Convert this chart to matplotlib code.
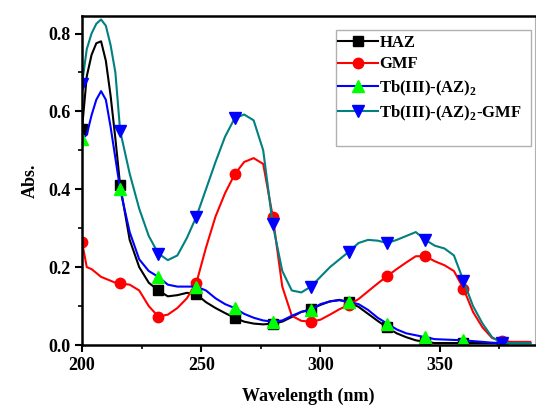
import numpy as np
import matplotlib
matplotlib.use("Agg")
import matplotlib.pyplot as plt
from matplotlib.patches import Rectangle

plt.rcParams['font.family'] = ['Liberation Serif', 'DejaVu Serif']
plt.rcParams['font.weight'] = 'bold'
plt.rcParams['mathtext.fontset'] = 'custom'
plt.rcParams['mathtext.rm'] = 'Liberation Serif:bold'
plt.rcParams['mathtext.bf'] = 'Liberation Serif:bold'

# wavelength grid (nm) and absorbance readings
wl = [200, 202, 204, 206, 208, 210, 212, 214, 216] + list(range(220, 392, 4))
marker_wl = [200, 216, 232, 248, 264, 280, 296, 312, 328, 344, 360, 376]

haz = [0.555, 0.69, 0.745, 0.775, 0.78, 0.73, 0.64, 0.53, 0.41,
       0.27, 0.20, 0.16, 0.14, 0.125, 0.128, 0.134, 0.13, 0.11, 0.095, 0.082,
       0.07, 0.06, 0.055, 0.053, 0.055, 0.06, 0.072, 0.085, 0.092, 0.103,
       0.112, 0.116, 0.11, 0.098, 0.08, 0.062, 0.045, 0.03, 0.02, 0.012,
       0.008, 0.005, 0.005, 0.005, 0.005, 0.005, 0.005, 0.005, 0.005, 0.005,
       0.005, 0.005]

gmf = [0.265, 0.20, 0.195, 0.185, 0.175, 0.17, 0.165, 0.16, 0.158,
       0.155, 0.14, 0.10, 0.073, 0.078, 0.095, 0.12, 0.16, 0.25, 0.33, 0.39,
       0.438, 0.47, 0.48, 0.465, 0.33, 0.15, 0.075, 0.062, 0.06, 0.065,
       0.078, 0.092, 0.103, 0.118, 0.138, 0.158, 0.177, 0.195, 0.212, 0.228,
       0.228, 0.215, 0.205, 0.19, 0.145, 0.085, 0.045, 0.018, 0.01, 0.008,
       0.008, 0.008]

tb_az = [0.53, 0.54, 0.59, 0.63, 0.652, 0.63, 0.56, 0.48, 0.40,
         0.29, 0.22, 0.19, 0.175, 0.155, 0.15, 0.15, 0.15, 0.14, 0.12, 0.105,
         0.095, 0.08, 0.07, 0.063, 0.06, 0.063, 0.075, 0.085, 0.09, 0.105,
         0.112, 0.115, 0.11, 0.105, 0.09, 0.07, 0.055, 0.04, 0.03, 0.025,
         0.02, 0.015, 0.014, 0.013, 0.012, 0.01, 0.008, 0.006, 0.005, 0.005,
         0.005, 0.005]

tb_az_gmf = [0.67, 0.76, 0.80, 0.825, 0.836, 0.82, 0.77, 0.70, 0.55,
             0.44, 0.35, 0.28, 0.235, 0.218, 0.23, 0.275, 0.33, 0.40, 0.47, 0.535,
             0.582, 0.592, 0.577, 0.50, 0.31, 0.19, 0.14, 0.135, 0.15, 0.175,
             0.20, 0.22, 0.24, 0.262, 0.27, 0.268, 0.262, 0.27, 0.28, 0.29,
             0.27, 0.255, 0.248, 0.23, 0.165, 0.10, 0.055, 0.02, 0.006, 0.005,
             0.005, 0.005]

labels = ['HAZ', 'GMF', r'Tb(III)-(AZ)$_\mathbf{2}$', r'Tb(III)-(AZ)$_\mathbf{2}$-GMF']

wl = np.array(wl)
marks = list(np.where(np.isin(wl, marker_wl))[0])

fig = plt.figure(figsize=(5.36, 4.05), dpi=100)
ax = fig.add_axes([82/536, 1-345/405, 453/536, 329/405])

ax.plot(wl, haz, '-', color='black', lw=1.5, marker='s', ms=7,
        mfc='black', mec='black', markevery=marks, label=labels[0])
ax.plot(wl, gmf, '-', color='red', lw=1.5, marker='o', ms=7.5,
        mfc='red', mec='red', markevery=marks, label=labels[1])
ax.plot(wl, tb_az, '-', color='blue', lw=1.5, marker='^', ms=9,
        mfc='#00ff00', mec='#00ff00', markevery=marks, label=labels[2])
ax.plot(wl, tb_az_gmf, '-', color='#008080', lw=1.5, marker='v', ms=9,
        mfc='blue', mec='blue', markevery=marks, label=labels[3])

ax.set_xlim(200, 390)
ax.set_ylim(0, 0.845)
ax.set_xticks([200, 250, 300, 350])
ax.set_xticks([225, 275, 325, 375], minor=True)
ax.set_yticks([0.0, 0.2, 0.4, 0.6, 0.8])
ax.set_yticks([0.1, 0.3, 0.5, 0.7], minor=True)
ax.tick_params(which='major', direction='out', length=5, width=1.5, labelsize=13)
ax.tick_params(which='minor', direction='out', length=3, width=1.2)
for t in ax.get_xticklabels() + ax.get_yticklabels():
    t.set_fontweight('bold')

for s in ['left', 'bottom', 'top']:
    ax.spines[s].set_linewidth(1.8)
ax.spines['right'].set_color('#b0b0b0')
ax.spines['right'].set_linewidth(0.8)

ax.set_xlabel('Wavelength (nm)', fontsize=13, fontweight='bold')
ax.xaxis.set_label_coords(0.5, -(396-345)/329)
ax.xaxis.label.set_va('center')
ax.set_ylabel('Abs.', fontsize=13, fontweight='bold')
ax.yaxis.set_label_coords((30-82)/453, 0.5)
ax.yaxis.label.set_va('center')

ax.add_patch(Rectangle(((336-82)/453, 1-130/329), (531-336)/453, 116/329,
                       transform=ax.transAxes, fill=False, ec='#b0b0b0', lw=1, zorder=5))
leg = ax.legend(loc='upper left', bbox_to_anchor=((331-82)/453, 1-12/329),
                frameon=False, fontsize=12, handlelength=2.4, handletextpad=0.1,
                labelspacing=0.35, borderaxespad=0)
for t in leg.get_texts():
    t.set_fontweight('bold')

fig.savefig('out.png', dpi=100)
